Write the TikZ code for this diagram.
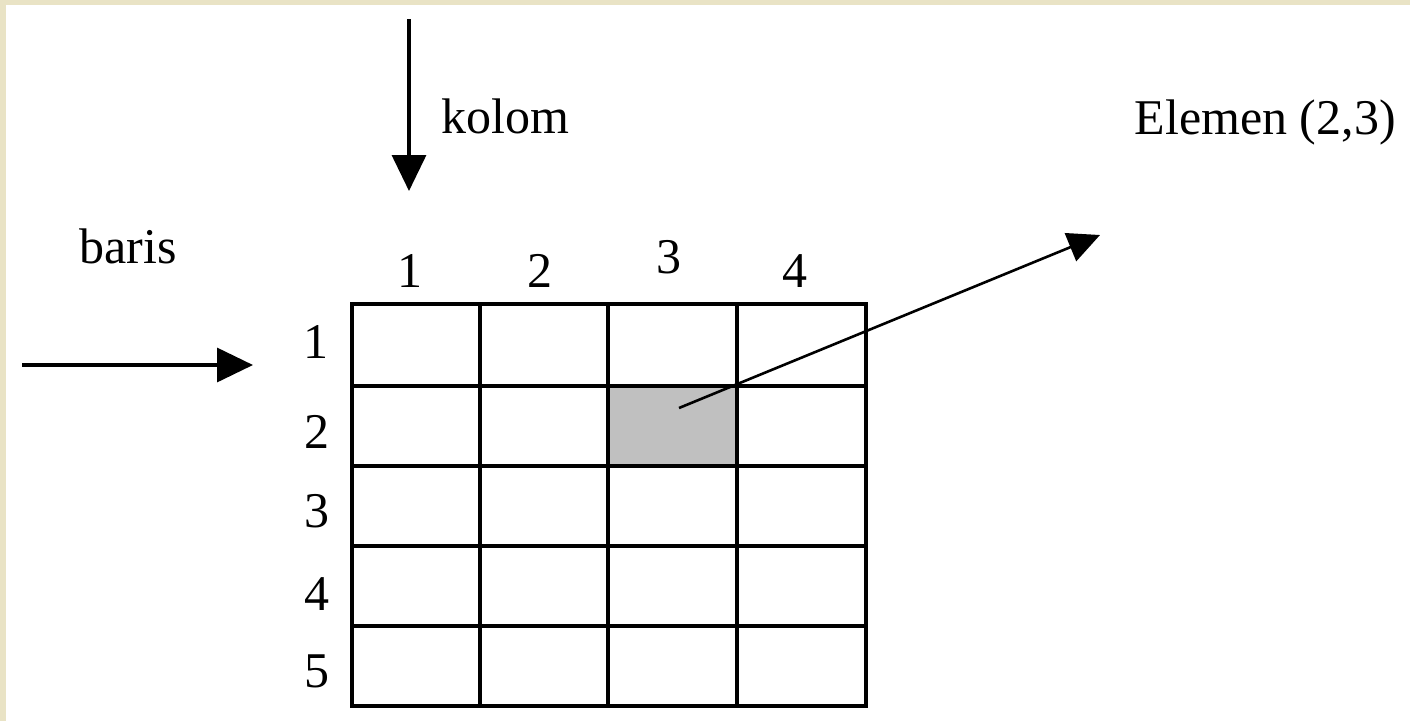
\documentclass[tikz,border=0pt]{standalone}
\usepackage{fontspec}
\setmainfont{Liberation Serif}
\usetikzlibrary{arrows.meta}
\definecolor{paper}{RGB}{233,227,197}
\definecolor{cellgray}{RGB}{192,192,192}

\begin{document}
\begin{tikzpicture}[x=1pt, y=-1pt, line width=3.4pt,
    lbl/.style={font=\fontsize{50}{60}\selectfont, inner sep=0pt, anchor=base},
    bigtip/.style={-{Triangle[length=36pt, width=34pt]}}]
  \useasboundingbox (0,0) rectangle (1410,721);
  % paper edge and white sheet
  \fill[paper] (0,0) rectangle (1410,721);
  \fill[white] (6,5) rectangle (1410,721);
  % selected element (2,3)
  \fill[cellgray] (608,386) rectangle (737,466);
  % matrix grid
  \draw (352,304) rectangle (866,706);
  \foreach \x in {480,608,737} \draw (\x,304) -- (\x,706);
  \foreach \y in {386,466,546,626} \draw (352,\y) -- (866,\y);
  % column numbers
  \node[lbl] (c1) at (410,287) {1};
  \node[lbl] (c2) at (540,287) {2};
  \node[lbl] (c3) at (669,273) {3};
  \node[lbl] (c4) at (795,287) {4};
  % row numbers
  \node[lbl] (r1) at (316,358) {1};
  \node[lbl] (r2) at (317,448) {2};
  \node[lbl] (r3) at (317,527) {3};
  \node[lbl] (r4) at (317,610) {4};
  \node[lbl] (r5) at (317,687) {5};
  % captions
  \node[lbl, anchor=base west] (kolom) at (440,133) {kolom};
  \node[lbl, anchor=base west] (baris) at (78,263) {baris};
  \node[lbl, anchor=base west] (elem) at (1133,134) {Elemen (2,3)};
  % arrows
  \coordinate (ktop) at (409,19);
  \coordinate (kend) at (409,191);
  \coordinate (bstart) at (22,365);
  \coordinate (bend) at (253,365);
  \coordinate (cell) at (679,408);
  \coordinate (etip) at (1100,235);
  \draw[bigtip] (ktop) -- (kend);
  \draw[bigtip] (bstart) -- (bend);
  \draw[line width=2.6pt, -{Triangle[length=32pt, width=30pt]}] (cell) -- (etip);
\end{tikzpicture}
\end{document}
